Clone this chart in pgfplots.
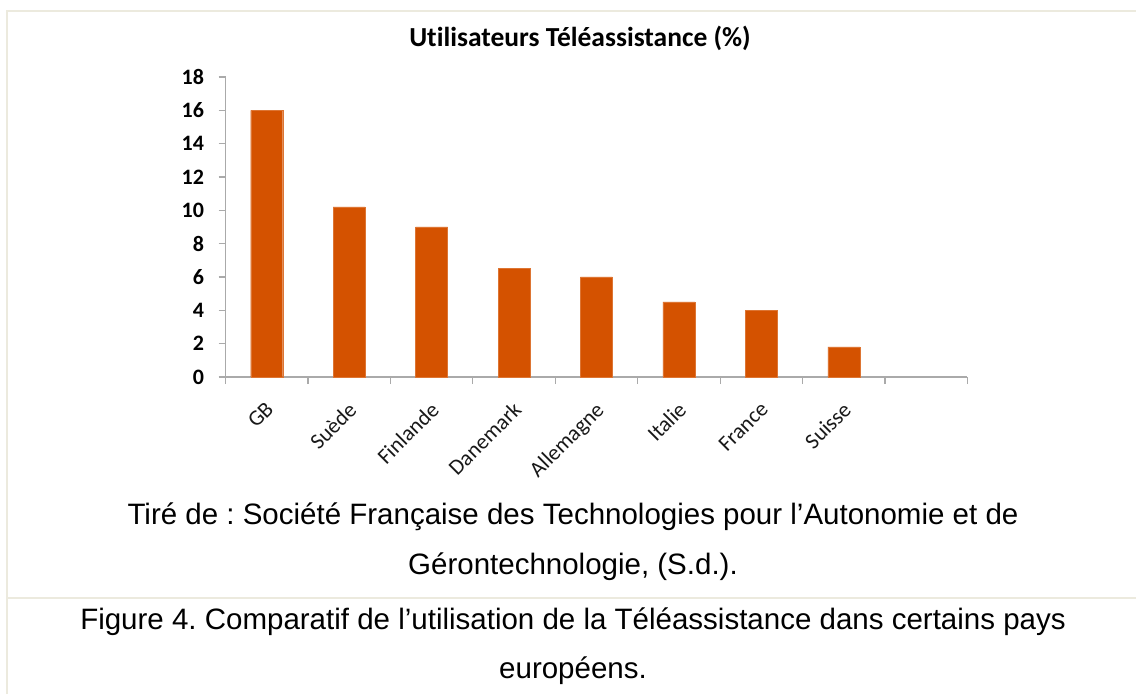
\documentclass[border=0pt]{standalone}
\usepackage{fontspec}
\setmainfont{Carlito}[Ligatures=NoCommon]
\newfontfamily\arial{Liberation Sans}
\usepackage{pgfplots}
\pgfplotsset{compat=1.18}
\definecolor{barc}{RGB}{212,82,0}
\definecolor{axc}{RGB}{170,170,170}
\definecolor{framec}{RGB}{236,234,222}
\frenchspacing
\begin{document}
\begin{tikzpicture}[x=1pt,y=1pt]
\path[use as bounding box] (0,0) rectangle (1136,694);
\draw[framec, line width=2pt] (7,0) -- (7,683) -- (1136,683);
\draw[framec, line width=2pt] (7,96) -- (1136,96);
\begin{axis}[
  at={(225.5pt,317pt)}, anchor=south west,
  scale only axis, width=742pt, height=300pt,
  xmin=-0.5, xmax=8.5, ymin=0, ymax=18,
  axis lines*=left,
  axis line style={axc, line width=1.3pt},
  tick style={axc, line width=1.3pt},
  tick align=outside, major tick length=7pt,
  ytick={0,2,...,18},
  xtick={-0.5,0.5,...,8.5},
  x tick label as interval,
  xticklabels={GB,Suède,Finlande,Danemark,Allemagne,Italie,France,Suisse,{}},
  xticklabel style={rotate=45, anchor=north east, font=\fontsize{22}{26}\selectfont, text=black!90, inner sep=1pt, xshift=-12pt, yshift=-9pt},
  yticklabel style={font=\bfseries\fontsize{22}{26}\selectfont, text=black, xshift=-11pt},
  /pgf/number format/assume math mode=true,
  clip=false,
]
\addplot[ybar, bar width=32pt, fill=barc, draw=barc!80!white, line width=0.4pt] coordinates {
  (0,16) (1,10.2) (2,9) (3,6.5) (4,6) (5,4.5) (6,4) (7,1.8)
};
\end{axis}
\node[anchor=base] at (580,647) {\bfseries\fontsize{27.5}{32}\selectfont Utilisateurs Téléassistance (\%)};
\node[anchor=base] at (573,169) {\arial\fontsize{29.5}{34}\selectfont Tiré de : Société Française des Technologies pour l’Autonomie et de};
\node[anchor=base] at (573,119) {\arial\fontsize{29.5}{34}\selectfont Gérontechnologie, (S.d.).};
\node[anchor=base] at (573,64) {\arial\fontsize{29.5}{34}\selectfont Figure 4. Comparatif de l’utilisation de la Téléassistance dans certains pays};
\node[anchor=base] at (573,16) {\arial\fontsize{29.5}{34}\selectfont européens.};
\end{tikzpicture}
\end{document}
